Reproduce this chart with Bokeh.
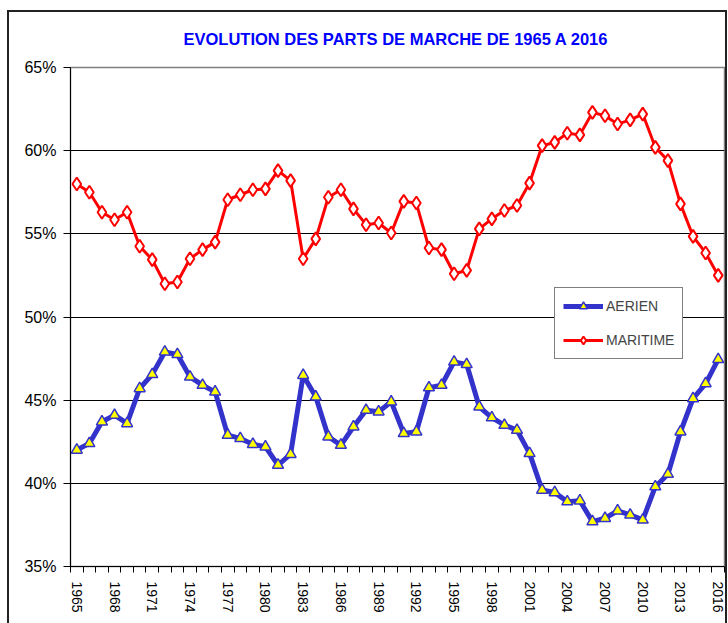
from bokeh.plotting import figure
from bokeh.models import Range1d, FixedTicker, PrintfTickFormatter, Legend, LegendItem
from bokeh.embed import file_html
from bokeh.resources import INLINE

years = list(range(1965, 2017))
aerien = [42.0, 42.4, 43.7, 44.1, 43.6, 45.7, 46.55, 47.9, 47.75, 46.4,
          45.9, 45.5, 42.9, 42.7, 42.35, 42.2, 41.1, 41.75, 46.5, 45.2,
          42.8, 42.3, 43.4, 44.4, 44.3, 44.9, 43.0, 43.1, 45.75, 45.9,
          47.3, 47.15, 44.6, 43.95, 43.5, 43.2, 41.8, 39.6, 39.45, 38.9,
          38.95, 37.7, 37.9, 38.35, 38.1, 37.8, 39.8, 40.55, 43.1, 45.1,
          46.0, 47.45]
maritime = [58.0, 57.5, 56.3, 55.85, 56.3, 54.25, 53.45, 52.0, 52.1, 53.5,
            54.05, 54.5, 57.05, 57.35, 57.65, 57.7, 58.8, 58.2, 53.5, 54.7,
            57.2, 57.65, 56.5, 55.55, 55.65, 55.05, 56.95, 56.85, 54.15, 54.05,
            52.6, 52.8, 55.3, 55.9, 56.4, 56.7, 58.05, 60.3, 60.5, 61.05,
            60.95, 62.3, 62.1, 61.6, 61.85, 62.2, 60.2, 59.4, 56.8, 54.85,
            53.85, 52.5]
label_years = list(range(1965, 2017, 3))
y_ticks = [35, 40, 45, 50, 55, 60, 65]
title_text = "EVOLUTION DES PARTS DE MARCHE DE 1965 A 2016"

ARIAL = "'Liberation Sans', Arial, sans-serif"

p = figure(width=720, height=613, output_backend="svg", toolbar_location=None,
           x_range=Range1d(years[0] - 0.5, years[-1] + 0.5),
           y_range=Range1d(y_ticks[0], y_ticks[-1]),
           min_border_left=61, min_border_right=5, min_border_top=55,
           min_border_bottom=59)
p.margin = (10, 1, 0, 7)
p.styles = {"border-top": "2px solid #222222",
            "border-left": "2px solid #222222",
            "border-right": "2px solid #222222"}

p.title.text = title_text
p.title.text_color = "#0000FF"
p.title.text_font = ARIAL
p.title.text_font_style = "bold"
p.title.text_font_size = "16.5px"
p.title.align = "left"
p.title.offset = 113
p.title.vertical_align = "top"
p.title.standoff = 35

p.outline_line_color = "#808080"
p.outline_line_width = 1.5
p.background_fill_color = "white"
p.border_fill_color = "white"

p.xgrid.visible = False
p.ygrid.ticker = FixedTicker(ticks=y_ticks)
p.ygrid.grid_line_color = "black"
p.ygrid.grid_line_width = 1

xa = p.xaxis[0]
xa.ticker = FixedTicker(ticks=label_years, minor_ticks=[y - 0.5 for y in range(1965, 2018)])
xa.major_tick_out = 0
xa.major_tick_in = 0
xa.minor_tick_out = 6
xa.minor_tick_in = 0
xa.minor_tick_line_color = "black"
xa.axis_line_color = "black"
xa.major_label_orientation = "vertical"
xa.major_label_standoff = 9
xa.major_label_text_font = ARIAL
xa.major_label_text_font_size = "14px"
xa.major_label_text_color = "black"

ya = p.yaxis[0]
ya.ticker = FixedTicker(ticks=y_ticks)
ya.formatter = PrintfTickFormatter(format="%d%%")
ya.major_tick_out = 7
ya.major_tick_in = 0
ya.minor_tick_line_color = None
ya.axis_line_color = "black"
ya.major_label_standoff = 7
ya.major_label_text_font = ARIAL
ya.major_label_text_font_size = "16px"
ya.major_label_text_color = "black"

l1 = p.line(years, aerien, line_color="#3333CC", line_width=5)
s1 = p.scatter(years, aerien, marker="triangle", size=11, fill_color="#FFFF00",
               line_color="#3333CC", line_width=1.5)
l2 = p.line(years, maritime, line_color="#FF0000", line_width=3)
s2 = p.scatter(years, maritime, marker="diamond", size=13, fill_color="white",
               line_color="#FF0000", line_width=2)

legend = Legend(items=[LegendItem(label="AERIEN", renderers=[l1, s1]),
                       LegendItem(label="MARITIME", renderers=[l2, s2])],
                location=(484, 207))
legend.margin = 0
legend.padding = 8
legend.spacing = 14
legend.glyph_width = 40
legend.glyph_height = 20
legend.label_height = 20
legend.label_standoff = 3
legend.label_text_font = ARIAL
legend.label_text_font_size = "14px"
legend.border_line_color = "black"
legend.border_line_width = 1
legend.background_fill_alpha = 1
p.add_layout(legend, "center")

open("out.html", "w").write(file_html(p, INLINE))
